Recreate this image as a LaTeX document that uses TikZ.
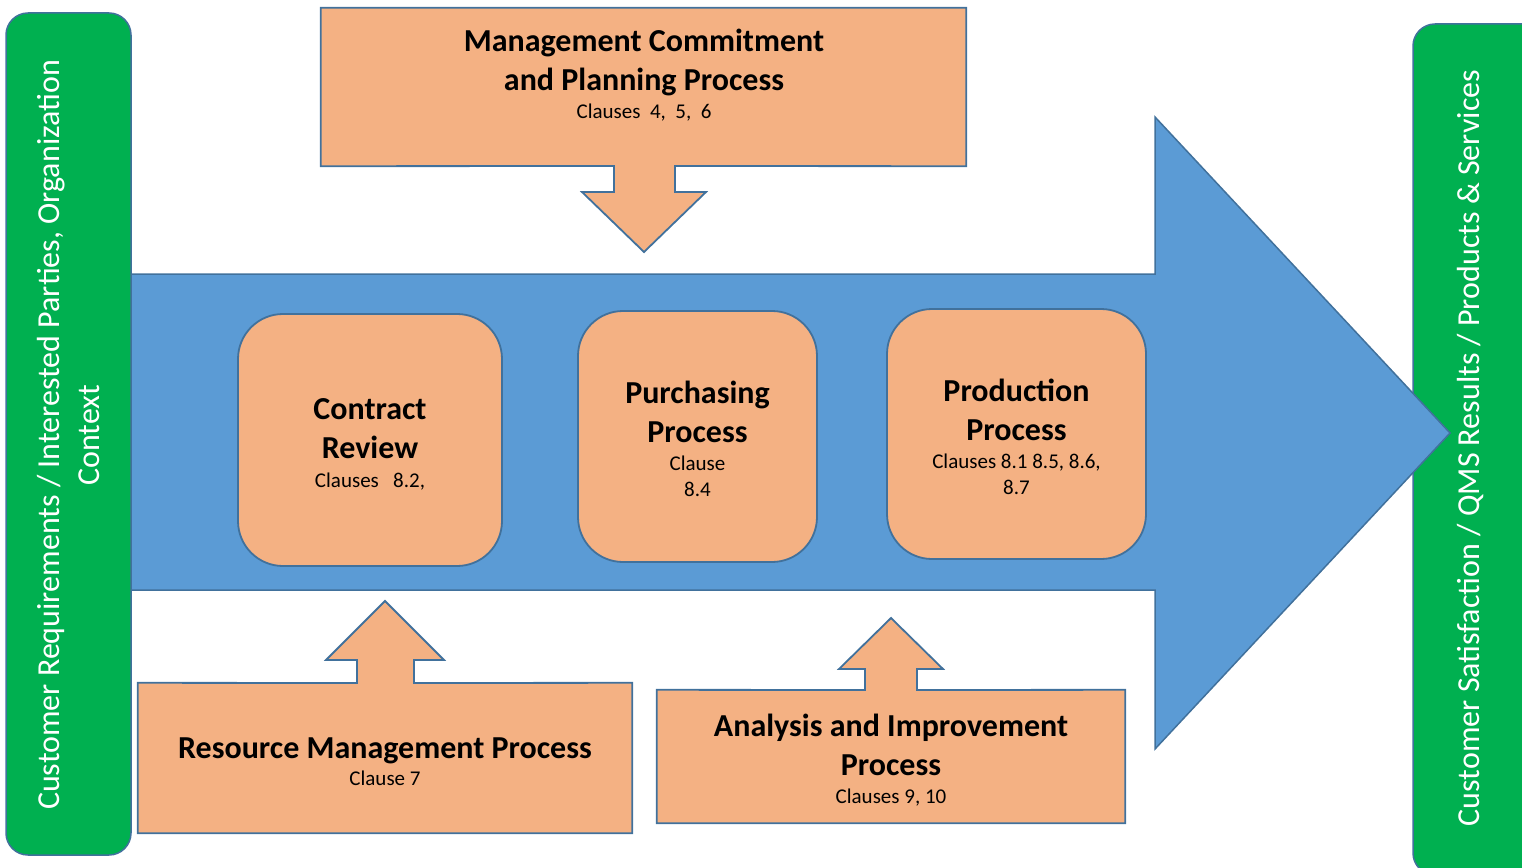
\documentclass[tikz,border=0pt]{standalone}
\usepackage{fontspec}
\setmainfont{Carlito}
\usetikzlibrary{positioning,backgrounds}
\definecolor{procfill}{HTML}{F4B183}
\definecolor{procline}{HTML}{41719C}
\definecolor{flowblue}{HTML}{5B9BD5}
\definecolor{panelgreen}{HTML}{00B050}
\begin{document}
\begin{tikzpicture}[x=1pt,y=-1pt,
      panel/.style={
         fill=panelgreen,
         draw=procline,
         line width=1.5pt,
         rounded corners=22pt
      },
      flow/.style={
         fill=flowblue,
         draw=procline,
         line width=1.5pt
      },
      procbox/.style={
         rectangle,
         rounded corners=45pt,
         fill=procfill,
         draw=procline,
         line width=1.8pt,
         inner sep=0pt
      },
      inbox/.style={rectangle,draw=none,inner sep=0pt},
      inshape/.style={fill=procfill,draw=procline,line width=1.8pt},
      title/.style={
         font=\bfseries\fontsize{32}{39}\selectfont,
         align=center,anchor=base,inner sep=0pt
      },
      clause/.style={
         font=\fontsize{21}{26}\selectfont,
         align=center,anchor=base,inner sep=0pt
      },
      side/.style={
         font=\fontsize{32}{40}\selectfont,
         text=white,align=center,rotate=90,inner sep=0pt
      }
    ]
    \useasboundingbox (0,0) rectangle (1522,867);
    % output panel, under the big arrow
    \draw[panel] (1413,24) rectangle (1550,875);
    \node (outtext) [side] at (1470,448)
       {Customer Satisfaction / QMS Results / Products \& Services};
    % main flow
    \draw[flow] (100,274) -- (1155,274) -- (1155,117) -- (1450,433)
       -- (1155,749) -- (1155,590) -- (100,590) -- cycle;
    % input panel
    \draw[panel] (6,13) rectangle (131,855);
    \node (intext) [side] at (69,435)
       {Customer Requirements / Interested Parties, Organization\\Context};
    % realisation processes
    \node (contract) [procbox, minimum width=264pt, minimum height=252pt] at (370,440) {};
    \node (purch) [procbox, minimum width=239pt, minimum height=251pt] at (697.5,436.5) {};
    \node (prod) [procbox, minimum width=259pt, minimum height=250pt] at (1016.5,434) {};
    \node (contractT) [title] at (370,458) {Contract\\Review};
    \node (contractC) [clause] at (370,487) {Clauses\ \ \ 8.2,};
    \node (purchT) [title] at (697.5,442) {Purchasing\\Process};
    \node (purchC) [clause] at (697.5,496) {Clause\\8.4};
    \node (prodT) [title] at (1016.5,440) {Production\\Process};
    \node (prodC) [clause] at (1016.5,494) {Clauses 8.1 8.5, 8.6,\\8.7};
    % supporting processes
    \node (mgmt) [inbox, minimum width=645pt, minimum height=158pt] at (643.5,87) {};
    \node (mgmtT) [title] at (644,90) {Management Commitment\\and Planning Process};
    \node (mgmtC) [clause] at (644,118) {Clauses\ \ 4,\ \ 5,\ \ 6};
    \node (res) [inbox, minimum width=494pt, minimum height=150pt] at (385,758) {};
    \node (resT) [title] at (385,758) {Resource Management Process};
    \node (resC) [clause] at (385,785) {Clause 7};
    \node (ana) [inbox, minimum width=468pt, minimum height=133pt] at (891,756.5) {};
    \node (anaT) [title] at (891,775) {Analysis and Improvement\\Process};
    \node (anaC) [clause] at (891,803) {Clauses 9, 10};
    \begin{scope}[on background layer]
      \draw[inshape] (mgmt.north west) -- (mgmt.north east) -- (mgmt.south east)
         -- (675,166) -- (675,192) -- (706,192) -- (644,252) -- (582,192)
         -- (614,192) -- (614,166) -- (mgmt.south west) -- cycle;
      \draw[inshape] (res.south west) -- (res.south east) -- (res.north east)
         -- (414,683) -- (414,660) -- (444,660) -- (385,601) -- (326,660)
         -- (357,660) -- (357,683) -- (res.north west) -- cycle;
      \draw[inshape] (ana.south west) -- (ana.south east) -- (ana.north east)
         -- (917,690) -- (917,669) -- (943,669) -- (891,618) -- (839,669)
         -- (865,669) -- (865,690) -- (ana.north west) -- cycle;
    \end{scope}
\end{tikzpicture}
\end{document}
